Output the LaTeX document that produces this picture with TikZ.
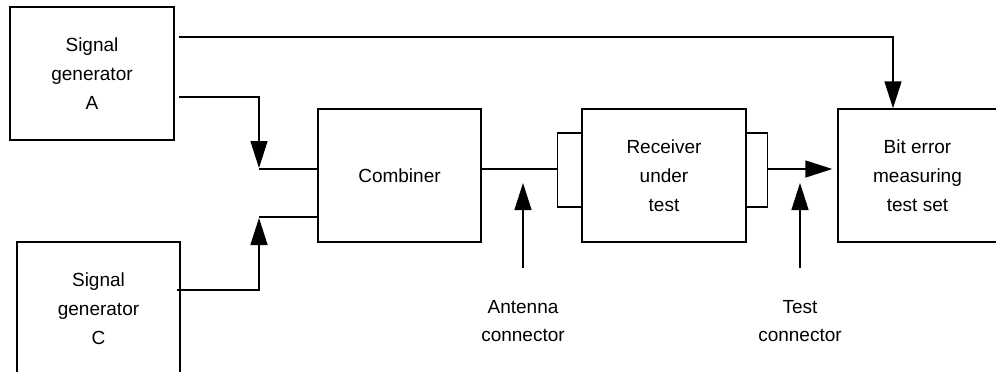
\documentclass[tikz,border=0pt]{standalone}
\usepackage{fontspec}
\setmainfont{Liberation Sans}
\usetikzlibrary{arrows.meta,calc}
\begin{document}
\begin{tikzpicture}[x=1pt,y=-1pt,
  blk/.style={draw, line width=1.4pt, inner sep=0pt, align=center,
    font=\fontsize{19}{29}\selectfont},
  con/.style={line width=1.4pt},
  arr/.style={con,-{Triangle[length=27pt,width=17pt]}},
  lbl/.style={align=center, inner sep=0pt, font=\fontsize{19}{28}\selectfont}]
\useasboundingbox (0,0) rectangle (996,372);
\clip (0,0) rectangle (996,372);
% blocks
\node[blk, minimum width=164pt, minimum height=133pt] (genA) at (92,73.5) {Signal\\generator\\A};
\node[blk, minimum width=163pt, minimum height=134pt] (genC) at (98.5,309) {Signal\\generator\\C};
\node[blk, minimum width=163pt, minimum height=133pt] (comb) at (399.5,175.5) {Combiner};
\node[blk, minimum width=164pt, minimum height=133pt] (rx) at (664,175.5) {Receiver\\under\\test};
\node[blk, minimum width=159pt, minimum height=133pt] (ber) at (917.5,175.5) {Bit error\\measuring\\test set};
% connector brackets on receiver
\draw[con] (rx.west |- 0,133) -- ++(-24,0) coordinate (lbr) -- ++(0,74) -- ++(24,0);
\draw[con] (rx.east |- 0,133) -- ++(21,0) coordinate (rbr) -- ++(0,74) -- ++(-21,0);
% Gen A to BER
\draw[arr] ($(genA.east |- 0,37)+(4,0)$) -| ([xshift=-24.5pt]ber.north);
% Gen A to combiner
\draw[arr] ($(genA.east |- 0,97)+(4,0)$) -| (259,168) coordinate (ta);
\draw[con] (259,169) -- (comb.west |- 0,169);
% Gen C to combiner
\draw[con] ($(genC.west |- 0,290)+(161,0)$) coordinate (cs) -- (260,290);
\draw[arr] (259,290) -- (259,218) coordinate (tc);
\draw[con] (259,217) -- (comb.west |- 0,217);
% combiner to receiver
\draw[con] (comb.east |- 0,169) -- (lbr |- 0,169);
% receiver to BER
\draw[arr] (rbr |- 0,169) -- ($(ber.west |- 0,169)+(-5,0)$);
% labels with arrows
\node[lbl] (ant) at (523,321) {Antenna\\connector};
\node[lbl] (tst) at (800,321) {Test\\connector};
\draw[arr] (ant.north |- 0,268) -- (ant.north |- 0,183);
\draw[arr] (tst.north |- 0,268) -- (tst.north |- 0,183);
\end{tikzpicture}
\end{document}
